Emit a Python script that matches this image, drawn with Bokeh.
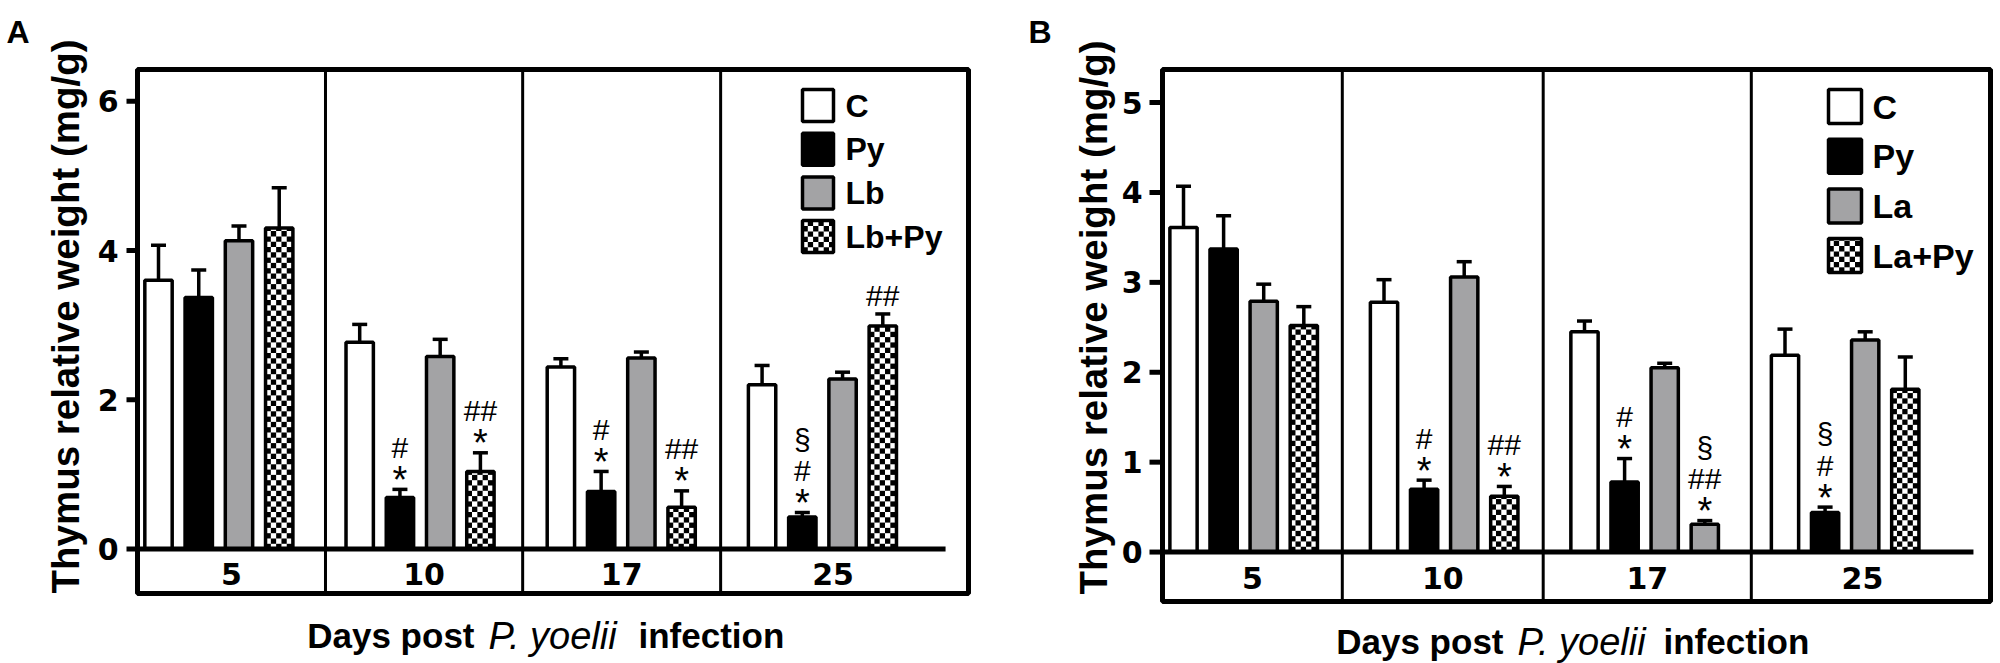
import math
from bokeh.plotting import figure
from bokeh.models import Range1d, ColumnDataSource, Whisker, TeeHead
from bokeh.layouts import row
from bokeh.core.properties import value
from bokeh.embed import file_html
from bokeh.resources import INLINE

# ---------------- data ----------------
days = ["5", "10", "17", "25"]

# Panel A
series_a = ["C", "Py", "Lb", "Lb+Py"]
mean_a_c = [3.60, 2.77, 2.44, 2.20]
mean_a_py = [3.37, 0.69, 0.77, 0.43]
mean_a_lb = [4.13, 2.58, 2.56, 2.28]
mean_a_lbpy = [4.30, 1.04, 0.56, 2.99]
sem_a_c = [0.47, 0.24, 0.11, 0.26]
sem_a_py = [0.37, 0.11, 0.27, 0.06]
sem_a_lb = [0.20, 0.23, 0.08, 0.09]
sem_a_lbpy = [0.54, 0.25, 0.22, 0.16]
ticks_a = [0, 2, 4, 6]
# significance marks (day, group, marks from bottom to top)
marks_a = [("10", "Py", ["*", "#"]), ("10", "Lb+Py", ["*", "##"]),
           ("17", "Py", ["*", "#"]), ("17", "Lb+Py", ["*", "##"]),
           ("25", "Py", ["*", "#", "§"]), ("25", "Lb+Py", ["##"])]

# Panel B
series_b = ["C", "Py", "La", "La+Py"]
mean_b_c = [3.61, 2.78, 2.45, 2.19]
mean_b_py = [3.37, 0.70, 0.78, 0.44]
mean_b_la = [2.79, 3.06, 2.05, 2.36]
mean_b_lapy = [2.52, 0.62, 0.31, 1.81]
sem_b_c = [0.46, 0.25, 0.12, 0.29]
sem_b_py = [0.37, 0.10, 0.26, 0.06]
sem_b_la = [0.19, 0.17, 0.05, 0.09]
sem_b_lapy = [0.21, 0.11, 0.04, 0.36]
ticks_b = [0, 1, 2, 3, 4, 5]
marks_b = [("10", "Py", ["*", "#"]), ("10", "La+Py", ["*", "##"]),
           ("17", "Py", ["*", "#"]), ("17", "La+Py", ["*", "##", "§"]),
           ("25", "Py", ["*", "#", "§"])]

y_title = "Thymus relative weight (mg/g)"
x_title = ["Days post", "P. yoelii", "infection"]

# ---------------- styles ----------------
GRAY = "#a3a3a5"
series_fill = ["white", "black", GRAY, "white"]
series_checker = [False, False, False, True]
# bar drawn plain gray in the original despite its series pattern
plain_bars_b = [("17", "La+Py")]

FONT = "Liberation Sans"
NUMFONT = "DejaVu Sans"
BAR_W = 0.68
CELL = 5.3                      # checker cell, px
row_center = [18, 42, 71]       # ink centres above error-bar top, px
ink_up = {"*": 8.5, "#": 0, "##": 0, "§": -2.5}
mark_size = {"*": "38px", "#": "30px", "##": "30px", "§": "30px"}


def checker_cells(x0, x1, y0, y1, cw, ch):
    L, R, B, T = [], [], [], []
    i = 0
    while y0 + i * ch < y1 - 1e-9:
        j = 0
        while x0 + j * cw < x1 - 1e-9:
            if (i + j) % 2 == 0:
                L.append(x0 + j * cw)
                R.append(min(x0 + (j + 1) * cw, x1))
                B.append(y0 + i * ch)
                T.append(min(y0 + (i + 1) * ch, y1))
            j += 1
        i += 1
    return L, R, B, T


def make_panel(series, means, sems, ticks, marks, plain, lay):
    (bl, br), (bt, bb) = lay["box_px"], lay["box_py"]
    (xl, xr), (yb, yt) = lay["box_x"], lay["box_y"]
    ppx = (br - bl) / (xr - xl)
    ppy = (bb - bt) / (yt - yb)
    fx = lambda px: xl + (px - bl) / ppx
    fy = lambda py: yt - (py - bt) / ppy
    W, H = lay["w"], lay["h"]

    p = figure(width=W, height=H,
               x_range=Range1d(fx(0), fx(W)), y_range=Range1d(fy(H), fy(0)),
               output_backend="svg", toolbar_location=None, title=None,
               x_axis_location=None, y_axis_location=None, min_border=0)
    p.grid.visible = False
    p.outline_line_color = None
    p.background_fill_color = "white"
    p.border_fill_color = "white"

    # ---- bars ----
    cl, cr, cb, ct = [], [], [], []
    wx, wlo, whi = [], [], []
    for si, name in enumerate(series):
        xs = [5 * gi + si for gi in range(len(days))]
        fills = []
        for gi, d in enumerate(days):
            if (d, name) in plain:
                fills.append(GRAY)
            else:
                fills.append(series_fill[si])
                if series_checker[si]:
                    c = checker_cells(xs[gi] - BAR_W / 2, xs[gi] + BAR_W / 2, 0,
                                      means[si][gi], CELL / ppx, CELL / ppy)
                    cl += c[0]; cr += c[1]; cb += c[2]; ct += c[3]
        src = ColumnDataSource(dict(x=xs, top=means[si], fill=fills))
        p.vbar(x="x", top="top", bottom=0, width=BAR_W, source=src,
               fill_color="fill", line_color=None)
        wx += xs
        wlo += list(means[si])
        whi += [m + s for m, s in zip(means[si], sems[si])]
    p.quad(left=cl, right=cr, bottom=cb, top=ct, fill_color="black", line_color=None)
    for si, name in enumerate(series):
        xs = [5 * gi + si for gi in range(len(days))]
        p.vbar(x=xs, top=means[si], bottom=0, width=BAR_W, fill_color=None,
               line_color="black", line_width=3.5)

    esrc = ColumnDataSource(dict(x=wx, lo=wlo, hi=whi))
    p.add_layout(Whisker(source=esrc, base="x", lower="lo", upper="hi",
                         dimension="height", line_color="black", line_width=3.5,
                         upper_head=TeeHead(size=15, line_width=3.5, line_color="black"),
                         lower_head=None))

    # ---- frame, dividers, baseline ----
    for d in lay["dividers"]:
        p.segment(x0=[d], x1=[d], y0=[yb], y1=[yt], line_color="black", line_width=3)
    p.segment(x0=[xl], y0=[0], x1=[lay["base_end"]], y1=[0], line_color="black",
              line_width=5)
    p.quad(left=[xl], right=[xr], bottom=[yb], top=[yt], fill_color=None,
           line_color="black", line_width=5)

    # ---- y axis ticks / labels ----
    to = lay["tick_out"]
    p.segment(x0=[xl - to / ppx] * len(ticks), x1=[xl] * len(ticks), y0=ticks, y1=ticks,
              line_color="black", line_width=5)
    p.text(x=[xl] * len(ticks), y=ticks, text=[str(t) for t in ticks],
           x_offset=-(to + lay["tick_standoff"]), text_align="right", text_baseline="middle",
           text_font=value(NUMFONT), text_font_size="30px", text_font_style="bold",
           text_color="black")
    p.text(x=[fx(lay["ytitle_px"][0])], y=[fy(lay["ytitle_px"][1])], text=[y_title],
           angle=math.pi / 2, text_align="center", text_baseline="middle",
           text_font=value(FONT), text_font_size="38.5px", text_font_style="bold",
           text_color="black")

    # ---- day labels ----
    bounds = [xl] + lay["dividers"] + [lay["base_end"]]
    cx = [(bounds[i] + bounds[i + 1]) / 2 for i in range(len(days))]
    p.text(x=cx, y=[lay["cat_y"]] * len(days), text=days,
           text_align="center", text_baseline="middle",
           text_font=value(NUMFONT), text_font_size="30px", text_font_style="bold",
           text_color="black")

    # ---- significance marks ----
    mx, my, mt, mdy, ms = [], [], [], [], []
    for d, name, syms in marks:
        gi, si = days.index(d), series.index(name)
        top = means[si][gi] + sems[si][gi]
        for k, s in enumerate(syms):
            mx.append(5 * gi + si)
            my.append(top)
            mt.append(s)
            mdy.append(-(row_center[k] - ink_up[s]))
            ms.append(mark_size[s])
    p.text(x="x", y="y", text="t", y_offset="dy", text_font_size="fs",
           source=ColumnDataSource(dict(x=mx, y=my, t=mt, dy=mdy, fs=ms)),
           text_align="center", text_baseline="middle",
           text_font=value(FONT), text_color="black")

    # ---- legend (drawn by hand) ----
    lx, ltop, lw, lh, lpitch = lay["leg_box"]
    ll, lr, lb, lt = [], [], [], []
    for si in range(len(series)):
        top_px = ltop + lpitch * si
        ll.append(fx(lx)); lr.append(fx(lx + lw))
        lt.append(fy(top_px)); lb.append(fy(top_px + lh))
    p.quad(left=ll, right=lr, bottom=lb, top=lt, fill_color=series_fill, line_color=None)
    kl, kr, kb, kt = [], [], [], []
    for si in range(len(series)):
        if series_checker[si]:
            c = checker_cells(ll[si], lr[si], lb[si], lt[si], CELL / ppx, CELL / ppy)
            kl += c[0]; kr += c[1]; kb += c[2]; kt += c[3]
    p.quad(left=kl, right=kr, bottom=kb, top=kt, fill_color="black", line_color=None)
    p.quad(left=ll, right=lr, bottom=lb, top=lt, fill_color=None, line_color="black",
           line_width=3.5)
    p.text(x=[fx(lay["leg_text_x"])] * len(series), y=[(a + b) / 2 for a, b in zip(lb, lt)],
           text=series, text_align="left", text_baseline="middle",
           text_font=value(FONT), text_font_size=lay["leg_font"], text_font_style="bold",
           text_color="black")

    # ---- x title (three styles) ----
    tx, ty = lay["title_px"], fy(lay["title_base"])
    p.text(x=[fx(tx[0])], y=[ty], text=[x_title[0]], text_align="right",
           text_baseline="alphabetic", text_font=value(FONT), text_font_size="35px",
           text_font_style="bold", text_color="black")
    p.text(x=[fx(tx[1])], y=[ty], text=[x_title[1]], text_align="left",
           text_baseline="alphabetic", text_font=value(FONT), text_font_size="38px",
           text_font_style="italic", text_color="black")
    p.text(x=[fx(tx[2])], y=[ty], text=[x_title[2]], text_align="left",
           text_baseline="alphabetic", text_font=value(FONT), text_font_size="35px",
           text_font_style="bold", text_color="black")

    # ---- panel letter ----
    p.text(x=[fx(lay["letter_px"][0])], y=[fy(lay["letter_px"][1])], text=[lay["letter"]],
           text_align="left", text_baseline="alphabetic", text_font=value(FONT),
           text_font_size="32px", text_font_style="bold", text_color="black")
    return p


lay_a = dict(w=1000, h=663,
             box_px=(137, 968), box_py=(69, 593), box_x=(-0.522, 20.13), box_y=(-0.595, 6.425),
             tick_out=11, tick_standoff=8, ytitle_px=(65, 316),
             dividers=[4.15, 9.05, 13.97], base_end=19.56, cat_y=-0.34,
             leg_box=(802, 89, 31, 32, 43.7), leg_text_x=845, leg_font="32px",
             title_px=(474, 488, 638), title_base=635,
             letter="A", letter_px=(6, 31))
lay_b = dict(w=1000, h=663,
             box_px=(162, 990), box_py=(69, 601), box_x=(-0.524, 20.125), box_y=(-0.55, 5.368),
             tick_out=13, tick_standoff=7, ytitle_px=(93, 317),
             dividers=[3.96, 8.97, 14.16], base_end=19.7, cat_y=-0.29,
             leg_box=(828, 89, 33, 34, 49.7), leg_text_x=872, leg_font="34px",
             title_px=(503, 517, 663), title_base=641,
             letter="B", letter_px=(28, 31))

pa = make_panel(series_a,
                [mean_a_c, mean_a_py, mean_a_lb, mean_a_lbpy],
                [sem_a_c, sem_a_py, sem_a_lb, sem_a_lbpy],
                ticks_a, marks_a, [], lay_a)
pb = make_panel(series_b,
                [mean_b_c, mean_b_py, mean_b_la, mean_b_lapy],
                [sem_b_c, sem_b_py, sem_b_la, sem_b_lapy],
                ticks_b, marks_b, plain_bars_b, lay_b)

layout = row(pa, pb, spacing=0)
open("out.html", "w").write(file_html(layout, INLINE))
